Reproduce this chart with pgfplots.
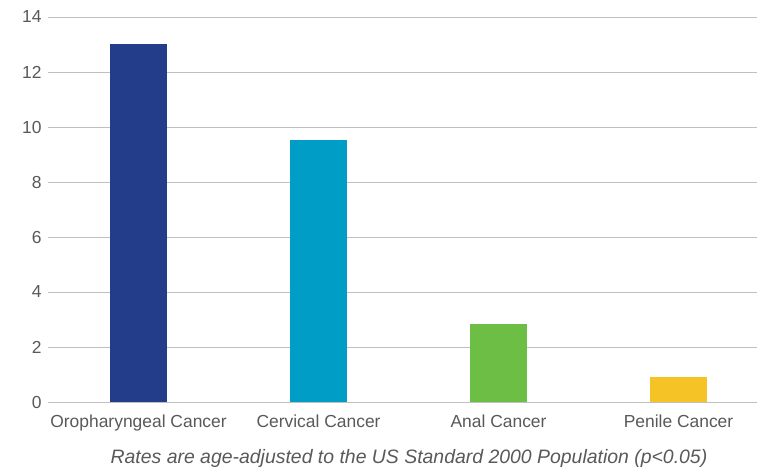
\documentclass[border=0pt]{standalone}
\usepackage{pgfplots}
\pgfplotsset{compat=1.18}
\usepackage{fontspec}
\setmainfont{Liberation Sans}
\definecolor{txt}{HTML}{595959}
\definecolor{grid}{HTML}{D9D9D9}
\definecolor{c1}{HTML}{243D8A}
\definecolor{c2}{HTML}{009EC7}
\definecolor{c3}{HTML}{6CBE45}
\definecolor{c4}{HTML}{F6C326}
\begin{document}
\begin{tikzpicture}
\useasboundingbox (0,0) rectangle (761bp,470bp);
\begin{axis}[
  at={(48bp,68bp)}, anchor=south west,
  scale only axis, width=709bp, height=385bp,
  xmin=-0.503, xmax=3.436, ymin=0, ymax=14,
  ytick={0,2,...,14},
  xtick={0,1,2,3},
  xticklabels={Oropharyngeal Cancer,Cervical Cancer,Anal Cancer,Penile Cancer},
  ymajorgrids, xmajorgrids=false, grid style={grid, line width=0.7pt},
  axis line style={draw=none},
  tick style={draw=none},
  ticklabel style={font=\fontsize{17.5}{20}\selectfont, text=txt},
  /pgf/number format/assume math mode=true,
  yticklabel style={xshift=-3bp},
  xticklabel style={yshift=-5bp},
  ybar, bar width=57bp, bar shift=0pt,
  clip=false,
]
\addplot[fill=c1, draw=none] coordinates {(0,13.0)};
\addplot[fill=c2, draw=none] coordinates {(1,9.53)};
\addplot[fill=c3, draw=none] coordinates {(2,2.83)};
\addplot[fill=c4, draw=none] coordinates {(3,0.91)};
\end{axis}
\node[text=txt, font=\fontsize{19.5}{22}\selectfont\itshape] at (409bp,12bp) {Rates are age-adjusted to the US Standard 2000 Population (p<0.05)};
\end{tikzpicture}
\end{document}
